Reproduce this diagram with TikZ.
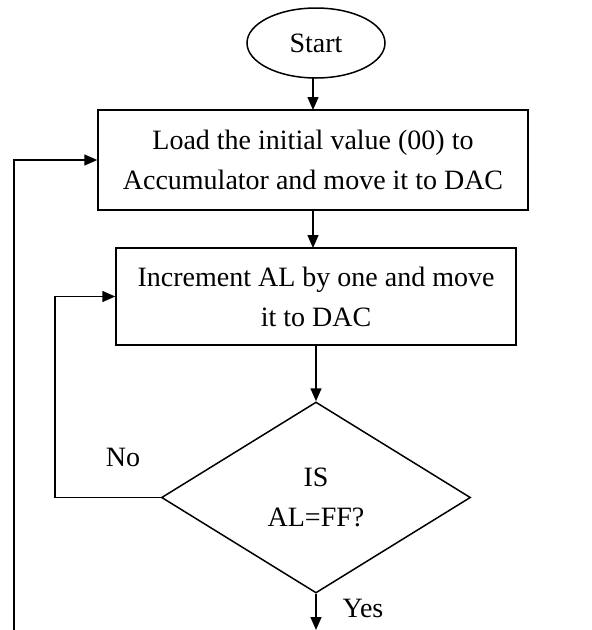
\documentclass[tikz,border=0pt]{standalone}
\usepackage{fontspec}
\setmainfont{Liberation Serif}
\usetikzlibrary{shapes.geometric,arrows.meta}
\begin{document}
\begin{tikzpicture}[x=1pt,y=-1pt,
  every node/.style={font=\fontsize{28}{40}\selectfont, text=black},
  box/.style={draw, line width=1.5pt, rectangle, inner sep=0pt, align=center},
  term/.style={draw, line width=1.5pt, ellipse, inner sep=0pt},
  dec/.style={draw, line width=1.5pt, diamond, inner sep=0pt, align=center},
  conn/.style={line width=1.5pt, -{Triangle[length=13pt,width=11pt]}},
  lbl/.style={inner sep=0pt}]
\useasboundingbox (0,0) rectangle (592,630);
\node[term, minimum width=138, minimum height=70] (start) at (316,43) {Start};
\node[box, minimum width=430, minimum height=100] (b1) at (313,160) {Load the initial value (00) to\\Accumulator and move it to DAC};
\node[box, minimum width=400, minimum height=97] (b2) at (316,296.5) {Increment AL by one and move\\it to DAC};
\node[dec, minimum width=309, minimum height=191] (d) at (316,497.5) {IS\\AL=FF?};
\node[lbl] (no) at (123,457) {No};
\node[lbl] (yes) at (363,608) {Yes};
\coordinate (yend) at (316,630);
\coordinate (lb) at (14,630);
\coordinate (nl) at (55,497.5);
\draw[conn] (313,78) -- (313,110);
\draw[conn] (313,210) -- (313,248);
\draw[conn] (d.north |- b2.south) -- (d.north);
\draw[conn] (d.south) -- (yend);
\draw[conn] (lb) |- (b1.west);
\draw[conn] (d.west) -- (nl) |- (b2.west);
\end{tikzpicture}
\end{document}
